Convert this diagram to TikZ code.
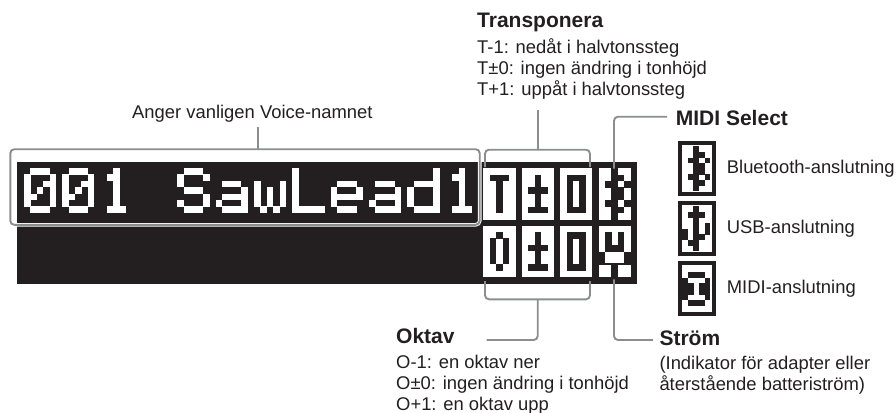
\documentclass[tikz,border=0pt]{standalone}
\usepackage{fontspec}
\setmainfont{Liberation Sans}
\usetikzlibrary{positioning, calc}
\definecolor{ink}{HTML}{231F20}
\definecolor{lead}{HTML}{8B8D8F}
\tikzset{
  every node/.style = {text=ink},
  lcdpanel/.style = {fill=ink, inner sep=0pt, minimum width=620pt, minimum height=122pt},
  lcdcell/.style  = {fill=white, inner sep=0pt, minimum width=32.2pt, minimum height=51.4pt},
  lcdicon/.style  = {draw=ink, fill=white, line width=4pt, inner sep=0pt, minimum width=34pt, minimum height=51pt},
  lcdframe/.style = {inner sep=0pt, minimum width=469pt, minimum height=75.2pt},
  lcdline/.style  = {draw=lead, line width=1.9pt, rounded corners=4pt},
  lcdhalo/.style  = {draw=white, line width=3.6pt, rounded corners=4pt},
  lcdhead/.style  = {font=\fontsize{21}{24}\selectfont\bfseries, anchor=base west, inner sep=0pt},
  lcdtext/.style  = {font=\fontsize{18.4}{21.2}\selectfont, anchor=north west, align=left, inner sep=0pt},
}
\newcount\lcdcol
\def\lcdscan#1{\ifx#1;\else
  \if#1X\fill[\lcdink] ({\lcdx+\the\lcdcol*\lcdp-0.1},{\lcdy+\lcdj*\lcdp-0.1}) rectangle +({\lcdp+0.2},{\lcdp+0.2});\fi
  \advance\lcdcol by 1 \expandafter\lcdscan\fi}
\newcommand{\lcdglyph}[5]{\def\lcdx{#1}\def\lcdy{#2}\def\lcdp{#3}\def\lcdink{#4}\edef\lcdlist{#5}
  \foreach \lcdr [count=\lcdj from 0] in \lcdlist {\lcdcol=0 \expandafter\lcdscan\lcdr;}}
\def\gzero{oXXXo,XoooX,XooXX,XoXoX,XXooX,XoooX,oXXXo}
\def\gone{ooXoo,oXXoo,ooXoo,ooXoo,ooXoo,ooXoo,oXXXo}
\def\gS{oXXXo,XoooX,Xoooo,oXXXo,ooooX,XoooX,oXXXo}
\def\ga{ooooo,ooooo,oXXXo,ooooX,oXXXX,XoooX,oXXXX}
\def\gw{ooooo,ooooo,XoooX,XoXoX,XoXoX,XoXoX,oXoXo}
\def\gL{Xoooo,Xoooo,Xoooo,Xoooo,Xoooo,Xoooo,XXXXX}
\def\ge{ooooo,ooooo,oXXXo,XoooX,XXXXX,Xoooo,oXXXo}
\def\gd{ooooX,ooooX,oXXXX,XoooX,XoooX,XoooX,oXXXX}
\def\gT{oXXXo,ooXoo,ooXoo,ooXoo,ooXoo,ooXoo}
\def\gpm{ooXoo,ooXoo,oXXXo,ooXoo,ooXoo,oXXXo}
\def\grect{oXXXo,oXoXo,oXoXo,oXoXo,oXoXo,oXXXo}
\def\goct{ooXoo,oXoXo,oXoXo,oXoXo,oXoXo,ooXoo}
\def\gplug{ooooo,oXoXo,oXoXo,oXXXo,XoooX,XoooX,ooXoo,ooXoo}
\def\gblue{ooXoo,ooXXo,oXXoX,ooXXo,ooXXo,oXXoX,ooXXo,ooXoo}
\def\gusb{ooXoo,oXXXo,ooXoo,ooXoX,XoXoX,XoXXo,oXXoo,ooXoo}
\def\gmidi{ooooo,oXXXo,XoooX,XXoXX,XXoXX,XoooX,oXXXo,ooooo}

\begin{document}
\begin{tikzpicture}[x=1pt, y=-1pt]
\useasboundingbox (0,0) rectangle (896,412);

\node[lcdpanel] (panel) at (327,223) {};

\foreach \n/\x/\y in {tcell/499.5/194, pcell/537.9/194, zcell/576.3/194, bcell/614.7/194,
                      ocell/499.5/251.5, qcell/537.9/251.5, ycell/576.3/251.5, scell/614.7/251.5}{
  \node[lcdcell] (\n) at (\x,\y) {};
}

\foreach \c/\g in {0/\gzero, 1/\gzero, 2/\gone, 4/\gS, 5/\ga, 6/\gw, 7/\gL, 8/\ge, 9/\ga, 10/\gd, 11/\gone}{
  \lcdglyph{24+\c*38.35}{168}{6.4}{white}{\g}
}
\lcdglyph{483.4}{174.6}{6.4}{ink}{\gT}
\lcdglyph{521.8}{174.6}{6.4}{ink}{\gpm}
\lcdglyph{560.2}{174.6}{6.4}{ink}{\grect}
\lcdglyph{598.6}{168.3}{6.4}{ink}{\gblue}
\lcdglyph{483.4}{232}{6.4}{ink}{\goct}
\lcdglyph{521.8}{232}{6.4}{ink}{\gpm}
\lcdglyph{560.2}{232}{6.4}{ink}{\grect}
\lcdglyph{598.6}{226}{6.4}{ink}{\gplug}
\fill[ink] (598.6,262.8) rectangle (630.8,265);

\node[lcdicon] (blueicon) at (697,168.5) {};
\node[lcdicon] (usbicon)  at (697,228.5) {};
\node[lcdicon] (midiicon) at (697,288.5) {};
\lcdglyph{682.3}{146.5}{5.6}{ink}{\gblue}
\lcdglyph{682.3}{206.5}{5.6}{ink}{\gusb}
\lcdglyph{682.3}{266.5}{5.6}{ink}{\gmidi}

\node[lcdtext, anchor=base west] (voicetxt) at (132,118) {Anger vanligen Voice-namnet};
\node[lcdhead] (transhead) at (477,28) {Transponera};
\node[lcdtext, below=10.2pt of transhead.base west, anchor=north west] (transtxt)
  {\strut T-1: nedåt i halvtonssteg\\T±0: ingen ändring i tonhöjd\\T+1: uppåt i halvtonssteg};
\node[lcdhead] (midihead) at (675.7,125) {MIDI Select};
\node[lcdtext, right=10.7pt of blueicon, anchor=west] (bluetxt) {Bluetooth-anslutning};
\node[lcdtext, right=10.7pt of usbicon, anchor=west]  (usbtxt)  {USB-anslutning};
\node[lcdtext, right=10.7pt of midiicon, anchor=west] (miditxt) {MIDI-anslutning};
\node[lcdhead] (oktavhead) at (396,343) {Oktav};
\node[lcdtext, below=10.2pt of oktavhead.base west, anchor=north west] (oktavtxt)
  {\strut O-1: en oktav ner\\O±0: ingen ändring i tonhöjd\\O+1: en oktav upp};
\node[lcdhead] (stromhead) at (659.3,345) {Ström};
\node[lcdtext, below=9.2pt of stromhead.base west, anchor=north west] (stromtxt)
  {\strut (Indikator för adapter eller\\återstående batteriström)};

\node[lcdframe] (voice) at (245,187) {};
\coordinate (voicetop) at (258,127);
\draw[lcdhalo] (voice.south west) rectangle (voice.north east);
\draw[lcdline] (voice.south west) rectangle (voice.north east);
\draw[lcdline] (voice.north -| voicetop) -- (voicetop);

\coordinate (tl) at (485,167);
\coordinate (tr) at (590,167);
\coordinate (tm) at (537.7,149.7);
\coordinate (te) at (537.7,110);
\draw[lcdline] (tl) |- (tm) -| (tr);
\draw[lcdline] (tm) -- (te);
\coordinate (mb) at (614,168.5);
\coordinate (me) at (667,116.7);
\draw[lcdline] (mb) |- (me);

\coordinate (ol) at (485,281);
\coordinate (or) at (590,281);
\coordinate (om) at (537.7,299.3);
\coordinate (oe) at (486.7,340);
\draw[lcdline] (ol) |- (om) -| (or);
\draw[lcdline] (om) |- (oe);
\coordinate (sb) at (614,279.3);
\coordinate (se) at (653,340);
\draw[lcdline] (sb) |- (se);
\end{tikzpicture}
\end{document}
